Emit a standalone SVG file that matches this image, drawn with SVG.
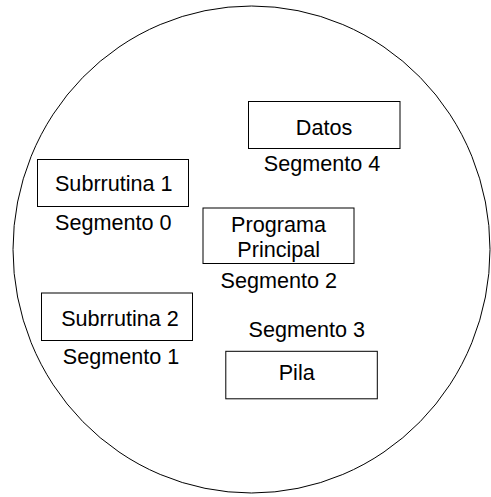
<svg xmlns="http://www.w3.org/2000/svg" width="491" height="497" viewBox="0 0 491 497">
<style>
.b{fill:#fff;stroke:#000;stroke-width:1}
.t{font-family:"Liberation Sans",Arial,sans-serif;font-size:21.6px;fill:#000;text-anchor:middle}
</style>
<rect width="491" height="497" fill="#fff"/>
<ellipse cx="251.5" cy="249.5" rx="238.5" ry="243.5" fill="none" stroke="#000" stroke-width="1"/>
<g id="datos"><rect class="b" x="248.5" y="101.5" width="151.5" height="47"/><text class="t" x="324" y="135">Datos</text></g>
<text class="t" x="322" y="170.7">Segmento 4</text>
<g id="sub1"><rect class="b" x="37.5" y="159.5" width="151" height="47"/><text class="t" x="113.8" y="191.3">Subrrutina 1</text></g>
<text class="t" x="113.3" y="230">Segmento 0</text>
<g id="prog"><rect class="b" x="203" y="208" width="151" height="55.5"/><text class="t" x="278.5" y="231.7">Programa</text><text class="t" x="278.7" y="256.7">Principal</text></g>
<text class="t" x="278.8" y="288.3">Segmento 2</text>
<g id="sub2"><rect class="b" x="41.5" y="293" width="151" height="47.5"/><text class="t" x="120" y="325.7">Subrrutina 2</text></g>
<text class="t" x="121" y="364">Segmento 1</text>
<text class="t" x="306.8" y="336.7">Segmento 3</text>
<g id="pila"><rect class="b" x="225.8" y="351.3" width="151.5" height="47.5"/><text class="t" x="296.7" y="380">Pila</text></g>
</svg>
